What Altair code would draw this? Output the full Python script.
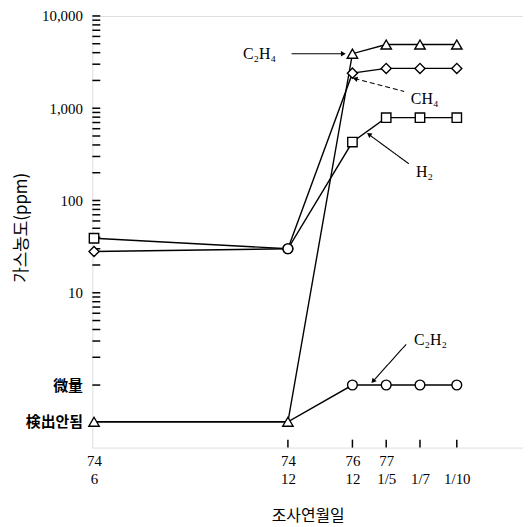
import altair as alt
import pandas as pd

# ---- data ----
date_line1 = ["74", "74", "76", "77", "", ""]
date_line2 = ["6", "12", "12", "1/5", "1/7", "1/10"]
# non-uniform time axis: position of each survey date along the axis
x_pos = [0.0, 5.74, 7.65, 8.65, 9.65, 10.74]

NOT_DETECTED = 0.4   # 検出안됨
TRACE = 1            # 微量

h2 = [39, 30, 430, 790, 790, 790]
ch4 = [28, 30, 2400, 2700, 2700, 2700]
c2h4 = [NOT_DETECTED, NOT_DETECTED, 3900, 4900, 4900, 4900]
c2h2 = [NOT_DETECTED, NOT_DETECTED, TRACE, TRACE, TRACE, TRACE]

h2_marker = ["square", "circle", "square", "square", "square", "square"]
ch4_marker = ["diamond", "circle", "diamond", "diamond", "diamond", "diamond"]
c2h4_marker = ["triangle-up"] * 6
c2h2_marker = ["", "", "circle", "circle", "circle", "circle"]

series_names = ["H2", "CH4", "C2H4", "C2H2"]
series_values = [h2, ch4, c2h4, c2h2]
series_markers = [h2_marker, ch4_marker, c2h4_marker, c2h2_marker]

y_tick_values = [NOT_DETECTED, TRACE, 10, 100, 1000, 10000]
minor_ticks = [m * 10 ** k for k in range(4) for m in range(1, 10)] + [10000]

# annotation labels (data coordinates) and leader lines
ann_text = ["C₂H₄", "CH₄", "H₂", "C₂H₂"]
ann_x = [4.41, 9.38, 9.53, 9.47]
ann_y = [3900, 1250, 205, 3.1]
lead_x1 = [5.85, 7.71, 8.12, 8.24]   # arrow-head end
lead_y1 = [3900, 2100, 525, 1.08]
lead_x2 = [7.41, 9.18, 9.32, 9.24]
lead_y2 = [3900, 1520, 250, 2.76]
lead_dash = ["solid", "dash", "solid", "solid"]
# arrow heads: position and pointing direction (degrees clockwise from up)
head_x = [7.38, 7.73, 8.14, 8.26]
head_y = [3900, 2090, 520, 1.1]
head_angle = [90, 285, 306, 222]

X_MIN, X_MAX = -0.05, 12.7
Y_MIN, Y_MAX = 0.21, 10000
W, H = 434, 435
# inward tick length expressed in data units
TICK_PX = 8
tick_dx = TICK_PX * (X_MAX - X_MIN) / W
tick_fy = 10 ** (TICK_PX * 4.678 / H)

# ---- tables ----
rows = []
for name, vals, marks in zip(series_names, series_values, series_markers):
    for i, (xp, v, m) in enumerate(zip(x_pos, vals, marks)):
        rows.append({"series": name, "order": i, "x": xp, "y": v, "marker": m})
df = pd.DataFrame(rows)
df_pts = df[df["marker"] != ""]

ann = pd.DataFrame({"text": ann_text, "x": ann_x, "y": ann_y})
heads = pd.DataFrame({"x": head_x, "y": head_y, "angle": head_angle})
lead = pd.DataFrame({"x": lead_x1, "y": lead_y1, "x2": lead_x2, "y2": lead_y2, "dash": lead_dash})

tick_rows = []
for v in minor_ticks:
    tick_rows.append({"x": X_MIN, "y": v, "x2": X_MIN + tick_dx, "y2": v})
for v in x_pos[1:]:
    tick_rows.append({"x": v, "y": Y_MIN, "x2": v, "y2": Y_MIN * tick_fy})
ticks = pd.DataFrame(tick_rows)

SERIF = "Liberation Serif, DejaVu Serif, Noto Sans CJK KR"

x_label_expr = "[" + ",".join(
    f"['{a}','{b}']" for a, b in zip(date_line1, date_line2)
) + "][indexof([" + ",".join(str(v) for v in x_pos) + "], datum.value)]"
y_label_expr = (
    f"datum.value == {NOT_DETECTED} ? '検出안됨' : datum.value == {TRACE} ? '微量' : format(datum.value, ',')"
)

x_scale = alt.Scale(domain=[X_MIN, X_MAX], nice=False, zero=False)
y_scale = alt.Scale(type="log", domain=[Y_MIN, Y_MAX], nice=False)

x_axis = alt.Axis(
    values=x_pos, labelExpr=x_label_expr, ticks=False, domain=False, grid=False,
    labelFont=SERIF, labelFontSize=15, labelColor="black", labelBaseline="top",
    labelPadding=6, labelLineHeight=18, labelAngle=0,
    title="조사연월일", titleFont="Noto Sans CJK KR", titleFontSize=16,
    titleFontWeight="normal", titleColor="black", titleY=60, titleBaseline="top",
)
y_axis = alt.Axis(
    values=y_tick_values, labelExpr=y_label_expr, ticks=False, domain=False, grid=False,
    labelFont=SERIF, labelFontSize=15, labelColor="black", labelPadding=10,
    labelFontWeight={"condition": {"test": f"datum.value <= {TRACE}", "value": "bold"}, "value": "normal"},
    title="가스농도(ppm)", titleFont="Noto Sans CJK KR", titleFontSize=17,
    titleFontWeight="normal", titleColor="black", titleX=-71, titleY=213,
    titleAngle=-90, titleAlign="center", titleBaseline="middle",
)

X = lambda f="x": alt.X(f"{f}:Q", scale=x_scale, axis=x_axis)
Y = lambda f="y": alt.Y(f"{f}:Q", scale=y_scale, axis=y_axis)

lines = alt.Chart(df).mark_line(color="black", strokeWidth=1.4).encode(
    x=X(), y=Y(), detail="series:N", order="order:Q"
)

points = alt.Chart(df_pts).mark_point(
    filled=True, fill="white", stroke="black", strokeWidth=1.4, opacity=1
).encode(
    x=X(), y=Y(),
    shape=alt.Shape("marker:N", scale=None),
    size=alt.Size("marker:N", scale=alt.Scale(
        domain=["square", "circle", "diamond", "triangle-up"],
        range=[90, 110, 110, 130]), legend=None),
)

leaders = alt.Chart(lead).mark_rule(color="black", strokeWidth=1.1).encode(
    x=X(), y=Y(), x2="x2:Q", y2="y2:Q",
    strokeDash=alt.StrokeDash("dash:N", scale=alt.Scale(
        domain=["solid", "dash"], range=[[1, 0], [5, 3]]), legend=None),
)

tick_layer = alt.Chart(ticks).mark_rule(color="black", strokeWidth=1.5).encode(
    x=X(), y=Y(), x2="x2:Q", y2="y2:Q"
)

arrowheads = alt.Chart(heads).mark_point(
    shape="triangle-up", filled=True, color="black", size=30, opacity=1
).encode(x=X(), y=Y(), angle=alt.Angle("angle:Q", scale=None))

labels = alt.Chart(ann).mark_text(
    align="left", baseline="middle", font=SERIF, fontSize=16, color="black"
).encode(x=X(), y=Y(), text="text:N")

chart = alt.layer(lines, leaders, tick_layer, arrowheads, labels, points).properties(
    width=W, height=H,
    autosize=alt.AutoSizeParams(type="none"),
    padding={"left": 85, "top": 6, "right": 0, "bottom": 76},
).configure_view(stroke="black", strokeWidth=1.5).configure(background="white")

chart.save("out.html", embed_options={"renderer": "svg", "actions": False})
